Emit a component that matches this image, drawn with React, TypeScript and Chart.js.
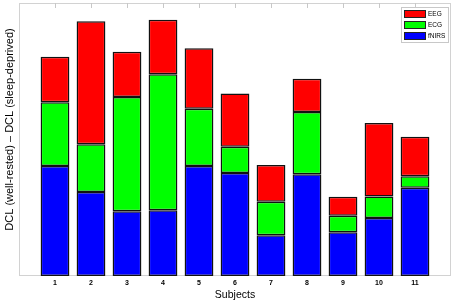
import React, { useEffect, useRef } from "react";
import { Chart, registerables } from "chart.js";

Chart.register(...registerables);

const subjects = ["1", "2", "3", "4", "5", "6", "7", "8", "9", "10", "11"];
const fnirsValues = [5.64, 4.31, 3.32, 3.37, 5.64, 5.28, 2.09, 5.22, 2.24, 2.97, 4.53];
const ecgValues = [3.27, 2.45, 5.86, 6.97, 2.94, 1.35, 1.72, 3.19, 0.85, 1.11, 0.58];
const eegValues = [2.34, 6.31, 2.32, 2.8, 3.1, 2.73, 1.88, 1.71, 0.97, 3.76, 2.03];
const yTitle = "DCL (well-rested) \u2013 DCL (sleep-deprived)";
const xTitle = "Subjects";

const FONT = "'Liberation Sans', Arial, Helvetica, sans-serif";

// pad with empty categories at both ends so that spacing matches
const labels = ["", ...subjects, ""];
const pad = (arr: number[]) => [null, ...arr, null];

const framePlugin = {
  id: "frameAndExtras",
  beforeDatasetsDraw(chart: any) {
    const { ctx, chartArea } = chart;
    const { left, top, right, bottom } = chartArea;
    ctx.save();
    ctx.strokeStyle = "#d2d2d2";
    ctx.lineWidth = 1;
    ctx.strokeRect(left + 0.5, top + 0.5, right - left - 1, bottom - top - 1);
    const xs = chart.scales.x;
    ctx.strokeStyle = "#c8c8c8";
    for (let i = 1; i <= subjects.length; i++) {
      const x = Math.round(xs.getPixelForValue(i)) + 0.5;
      ctx.beginPath();
      ctx.moveTo(x, top);
      ctx.lineTo(x, top + 5);
      ctx.stroke();
    }
    ctx.restore();
  },
  afterDraw(chart: any) {
    const { ctx } = chart;
    ctx.save();
    // y title
    ctx.translate(10, 129.5);
    ctx.rotate(-Math.PI / 2);
    ctx.fillStyle = "#000";
    ctx.font = `11px ${FONT}`;
    ctx.textAlign = "center";
    ctx.textBaseline = "middle";
    ctx.fillText(yTitle, 0, 0);
    ctx.restore();

    // legend
    ctx.save();
    const bx = 401, by = 7, bw = 48, bh = 36;
    ctx.fillStyle = "#fff";
    ctx.fillRect(bx, by, bw, bh);
    ctx.strokeStyle = "#c8c8c8";
    ctx.lineWidth = 1;
    ctx.strokeRect(bx + 0.5, by + 0.5, bw - 1, bh - 1);
    const ds = chart.data.datasets.slice().reverse();
    ds.forEach((d: any, i: number) => {
      const cy = 14 + i * 11;
      ctx.fillStyle = d.backgroundColor;
      ctx.fillRect(404, cy - 4, 22, 8);
      ctx.strokeStyle = "#222";
      ctx.strokeRect(404.5, cy - 3.5, 21, 7);
      ctx.fillStyle = "#000";
      ctx.font = `6.5px ${FONT}`;
      ctx.textAlign = "left";
      ctx.textBaseline = "middle";
      ctx.fillText(d.label, 428, cy + 0.5);
    });
    ctx.restore();
  },
};

export default function App() {
  const ref = useRef<HTMLCanvasElement | null>(null);
  useEffect(() => {
    if (!ref.current) return;
    const common = {
      borderColor: "#111",
      borderWidth: 1.5,
      borderSkipped: false,
      categoryPercentage: 0.8,
      barPercentage: 1.0,
    };
    const chart = new Chart(ref.current, {
      type: "bar",
      data: {
        labels,
        datasets: [
          { label: "fNIRS", data: pad(fnirsValues), backgroundColor: "#0000ff", ...common },
          { label: "ECG", data: pad(ecgValues), backgroundColor: "#00ff00", ...common },
          { label: "EEG", data: pad(eegValues), backgroundColor: "#ff0000", ...common },
        ] as any,
      },
      options: {
        animation: false,
        responsive: false,
        layout: { padding: { top: 3, right: 3, left: 0, bottom: 0 } },
        plugins: {
          legend: { display: false },
          tooltip: { enabled: false },
        },
        scales: {
          x: {
            stacked: true,
            offset: false,
            grid: { display: false, drawTicks: false },
            border: { display: false },
            ticks: {
              autoSkip: false,
              maxRotation: 0,
              padding: 3,
              color: "#000",
              font: { size: 7, weight: "bold", family: FONT },
            },
            title: {
              display: true,
              text: xTitle,
              color: "#000",
              font: { size: 10.5, family: FONT },
              padding: { top: 3, bottom: 3 },
            },
            afterFit(scale: any) {
              scale.height = 28;
            },
          },
          y: {
            stacked: true,
            min: 0,
            max: 14,
            grid: { display: false },
            border: { display: false },
            ticks: { display: false },
            afterFit(scale: any) {
              scale.width = 19;
            },
          },
        },
      } as any,
      plugins: [framePlugin],
    });
    return () => chart.destroy();
  }, []);
  return (
    <div style={{ position: "absolute", left: 0, top: 0, width: 454, height: 304 }}>
      <canvas ref={ref} width={454} height={304} style={{ display: "block" }} />
    </div>
  );
}
